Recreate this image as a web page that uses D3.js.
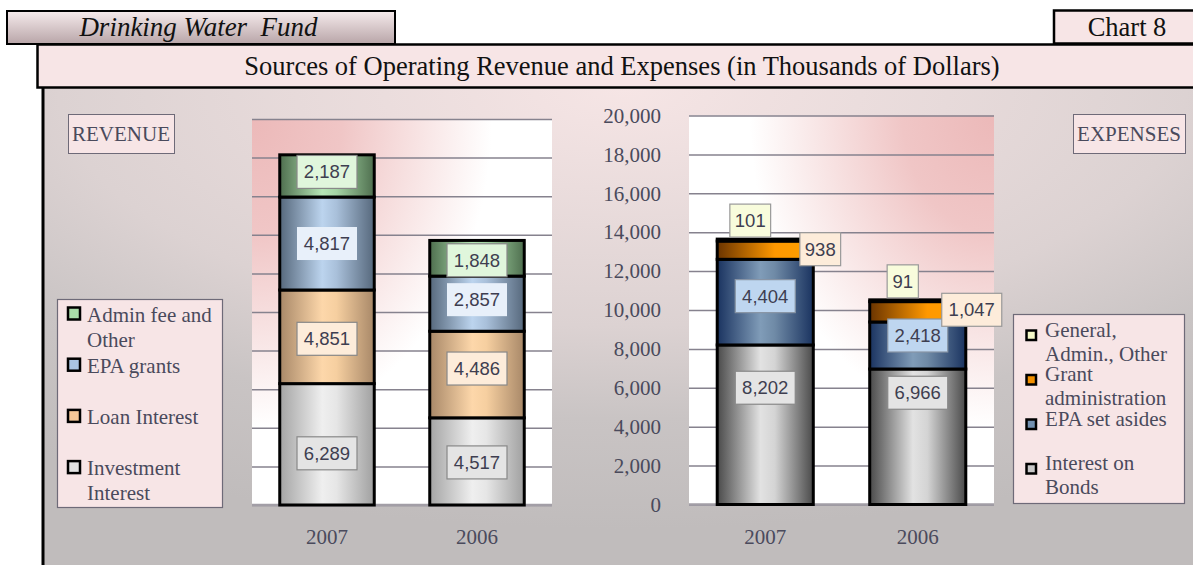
<!DOCTYPE html>
<html>
<head>
<meta charset="utf-8">
<script src="https://cdn.jsdelivr.net/npm/d3@7"></script>
<style>
  body { margin: 0; background: #ffffff; }
  svg { display: block; }
</style>
</head>
<body>
<div id="chart"></div>
<script>
// ---- data ----
var years = ["2007", "2006"];

// revenue (thousands of dollars)
var investmentInterest = [6289, 4517];
var loanInterest = [4851, 4486];
var epaGrants = [4817, 2857];
var adminFeeOther = [2187, 1848];

// expenses (thousands of dollars)
var interestOnBonds = [8202, 6966];
var epaSetAsides = [4404, 2418];
var grantAdministration = [938, 1047];
var generalAdminOther = [101, 91];

var yTicks = [0, 2000, 4000, 6000, 8000, 10000, 12000, 14000, 16000, 18000, 20000];

var revenueKeys = ["invest", "loan", "epa", "admin"];
var revenueLegend = [["Admin fee and", "Other"], ["EPA grants"], ["Loan Interest"], ["Investment", "Interest"]];
var expenseKeys = ["bonds", "setaside", "grant", "general"];
var expenseLegend = [["General,", "Admin., Other"], ["Grant", "administration"], ["EPA set asides"], ["Interest on", "Bonds"]];

// build rows for d3.stack
var revenueRows = years.map(function(y, i) {
  return {year: y, invest: investmentInterest[i], loan: loanInterest[i], epa: epaGrants[i], admin: adminFeeOther[i]};
});
var expenseRows = years.map(function(y, i) {
  return {year: y, bonds: interestOnBonds[i], setaside: epaSetAsides[i], grant: grantAdministration[i], general: generalAdminOther[i]};
});

// ---- styles ----
var styles = {
  invest:   {stops: [["0%", "#a4a4a4"], ["45%", "#efefef"], ["60%", "#e6e6e6"], ["100%", "#a0a0a0"]], swatch: "#e2e2e2", box: "#e4e4e4", boxStroke: "#888"},
  loan:     {stops: [["0%", "#a88868"], ["45%", "#fdd7aa"], ["60%", "#f6cfa0"], ["100%", "#a88868"]], swatch: "#f6c898", box: "#fdecda", boxStroke: "#888"},
  epa:      {stops: [["0%", "#56687c"], ["45%", "#bcd4ee"], ["60%", "#a9c0da"], ["100%", "#56687c"]], swatch: "#a9c4e2", box: "#e8f0fa", boxStroke: "none"},
  admin:    {stops: [["0%", "#4e6e4e"], ["45%", "#b6e6b6"], ["60%", "#a4d4a4"], ["100%", "#4e6e4e"]], swatch: "#a8dca8", box: "#e0f6dc", boxStroke: "#888"},
  bonds:    {stops: [["0%", "#4a4a4a"], ["45%", "#e2e2e2"], ["60%", "#d4d4d4"], ["100%", "#4a4a4a"]], swatch: "#c8c8c8", box: "#e4e4e4", boxStroke: "#888"},
  setaside: {stops: [["0%", "#1a3360"], ["45%", "#809cb8"], ["60%", "#6f8aa6"], ["100%", "#1a3360"]], swatch: "#7290b0", box: "#bed6f0", boxStroke: "#8894a4"},
  grant:    {stops: [["0%", "#6a3400"], ["60%", "#ff9800"], ["100%", "#ffa000"]], swatch: "#f29000", box: "#fdecda", boxStroke: "#999"},
  general:  {stops: [["0%", "#f4f8c8"], ["100%", "#f4f8c8"]], swatch: "#f4f8c8", box: "#f8fcdc", boxStroke: "#999"}
};

// small label nudges [dx, dy] per year, as placed in the original
var labelNudge = {
  invest: [[0, 9], [0, 1]], loan: [[0, 2], [0, -6]], epa: [[0, 0], [0, -4]], admin: [[0, -4], [0, 2]],
  bonds: [[0, -37], [0, -44]], setaside: [[0, -6], [0, -10]], grant: [[55, -1], [54, -2]], general: [[-15, 0], [-15, 0]]
};

var textColor = "#4a4a5c";
var serif = "'Liberation Serif', 'Times New Roman', serif";
var sans = "'Liberation Sans', Arial, sans-serif";

var svg = d3.select("#chart")
  .append("svg")
    .attr("width", 1193)
    .attr("height", 565);

var defs = svg.append("defs");

// panel background
var pg = defs.append("radialGradient").attr("id", "panelGrad")
  .attr("cx", 0.5).attr("cy", 0).attr("r", 0.9).attr("fx", 0.5).attr("fy", 0);
[["0%", "#f6e5e5"], ["54%", "#dcd2d2"], ["75%", "#c9c4c4"], ["100%", "#c0bcbc"]].forEach(function(s) {
  pg.append("stop").attr("offset", s[0]).attr("stop-color", s[1]);
});

// plot area backgrounds
[["plotL", 0], ["plotR", 1]].forEach(function(p) {
  var g = defs.append("radialGradient").attr("id", p[0])
    .attr("cx", p[1]).attr("cy", 0).attr("r", 1).attr("fx", p[1]).attr("fy", 0);
  [["0%", "#ecb9b9"], ["30%", "#f0c6c6"], ["80%", "#ffffff"], ["100%", "#ffffff"]].forEach(function(s) {
    g.append("stop").attr("offset", s[0]).attr("stop-color", s[1]);
  });
});

// header box gradient
var hg = defs.append("linearGradient").attr("id", "headGrad").attr("x1", 0).attr("y1", 0).attr("x2", 0).attr("y2", 1);
hg.append("stop").attr("offset", "0%").attr("stop-color", "#f6ebec");
hg.append("stop").attr("offset", "100%").attr("stop-color", "#b8a5a8");

// bar gradients
Object.keys(styles).forEach(function(k) {
  var g = defs.append("linearGradient").attr("id", "bar-" + k).attr("x1", 0).attr("y1", 0).attr("x2", 1).attr("y2", 0);
  styles[k].stops.forEach(function(s) {
    g.append("stop").attr("offset", s[0]).attr("stop-color", s[1]);
  });
});

// ---- panel and headers ----
svg.append("rect")
  .attr("x", 42).attr("y", 88).attr("width", 1160).attr("height", 490)
  .attr("fill", "url(#panelGrad)");
svg.append("line")
  .attr("x1", 43).attr("x2", 43).attr("y1", 86).attr("y2", 570)
  .attr("stroke", "#000").attr("stroke-width", 3);

svg.append("rect")
  .attr("x", 37.5).attr("y", 44.5).attr("width", 1170).attr("height", 43)
  .attr("fill", "#f7e5e6").attr("stroke", "#000").attr("stroke-width", 2.5);
svg.append("text")
  .attr("x", 622).attr("y", 74.5)
  .attr("text-anchor", "middle")
  .style("font-family", serif).style("font-size", "26.5px").attr("fill", "#111")
  .text("Sources of Operating Revenue and Expenses (in Thousands of Dollars)");

svg.append("rect")
  .attr("x", 7).attr("y", 11).attr("width", 388).attr("height", 33)
  .attr("fill", "url(#headGrad)").attr("stroke", "#000").attr("stroke-width", 2);
svg.append("text")
  .attr("x", 198.5).attr("y", 36)
  .attr("text-anchor", "middle")
  .style("font-family", serif).style("font-size", "27px").style("font-style", "italic")
  .style("white-space", "pre").attr("fill", "#111")
  .text("Drinking Water  Fund");

svg.append("rect")
  .attr("x", 1054).attr("y", 10.5).attr("width", 150).attr("height", 33)
  .attr("fill", "#f7e5e6").attr("stroke", "#000").attr("stroke-width", 2.5);
svg.append("text")
  .attr("x", 1127).attr("y", 36)
  .attr("text-anchor", "middle")
  .style("font-family", serif).style("font-size", "26.5px").attr("fill", "#111")
  .text("Chart 8");

// titled boxes
function tagBox(x, y, w, h, label) {
  svg.append("rect")
    .attr("x", x + 0.5).attr("y", y + 0.5).attr("width", w).attr("height", h)
    .attr("fill", "#f7e5e6").attr("stroke", "#6e6a78").attr("stroke-width", 1);
  svg.append("text")
    .attr("x", x + w / 2).attr("y", y + h / 2 + 7)
    .attr("text-anchor", "middle")
    .style("font-family", serif).style("font-size", "21px").attr("fill", textColor)
    .text(label);
}
tagBox(68, 114, 106, 39, "REVENUE");
tagBox(1073, 114, 112, 39, "EXPENSES");

// ---- stacked chart ----
function drawChart(opt) {
  var x = d3.scaleBand()
    .domain(years)
    .range([opt.x0, opt.x1])
    .paddingInner(0.37)
    .paddingOuter(0.185);

  var y = d3.scaleLinear()
    .domain([0, 20000])
    .range([opt.y0, opt.y1]);

  var g = svg.append("g");

  // plot background
  g.append("rect")
    .attr("x", opt.x0).attr("y", opt.y1)
    .attr("width", opt.x1 - opt.x0).attr("height", opt.y0 - opt.y1)
    .attr("fill", "url(#" + opt.bg + ")");

  // gridlines
  g.append("g")
    .attr("transform", "translate(" + opt.x0 + ",0)")
    .call(d3.axisLeft(y).tickValues(yTicks).tickSize(-(opt.x1 - opt.x0)).tickFormat(""))
    .call(function(a) { a.select(".domain").remove(); })
    .selectAll("line")
      .attr("stroke", "#86828e")
      .attr("stroke-width", 1.5);
  g.append("line")
    .attr("x1", opt.x0).attr("x2", opt.x1)
    .attr("y1", y(0)).attr("y2", y(0))
    .attr("stroke", "#a29ea6").attr("stroke-width", 2.5);

  // y axis labels
  if (opt.axis) {
    g.append("g")
      .attr("transform", "translate(" + (opt.x0 - 25) + ",0)")
      .call(d3.axisLeft(y).tickValues(yTicks).tickSize(0).tickFormat(d3.format(",")))
      .call(function(a) { a.select(".domain").remove(); })
      .selectAll("text")
        .style("font-family", serif)
        .style("font-size", "21px")
        .attr("fill", textColor);
  }

  // x labels
  g.selectAll(".year")
    .data(years)
    .enter().append("text")
      .attr("x", function(d) { return x(d) + x.bandwidth() / 2; })
      .attr("y", 544)
      .attr("text-anchor", "middle")
      .style("font-family", serif).style("font-size", "21px")
      .attr("fill", textColor)
      .text(function(d) { return d; });

  // bars
  var series = d3.stack().keys(opt.keys)(opt.rows);

  series.forEach(function(s) {
    g.append("g").selectAll("rect")
      .data(s)
      .enter().append("rect")
        .attr("x", function(d) { return x(d.data.year); })
        .attr("y", function(d) { return y(d[1]); })
        .attr("width", x.bandwidth())
        .attr("height", function(d) { return y(d[0]) - y(d[1]); })
        .attr("fill", "url(#bar-" + s.key + ")")
        .attr("stroke", "#000")
        .attr("stroke-width", 3);
  });

  // value labels
  var fmt = d3.format(",");
  series.forEach(function(s) {
    var st = styles[s.key];
    s.forEach(function(d, i) {
      var v = d[1] - d[0];
      var txt = fmt(v);
      var w = txt.length * 9.6 + 12;
      var h = 33;
      var nudge = labelNudge[s.key][i];
      var cx = x(d.data.year) + x.bandwidth() / 2 + nudge[0];
      var cy = s.key === "general"
        ? y(d[1]) - 2 - h / 2
        : (y(d[0]) + y(d[1])) / 2 + nudge[1];
      g.append("rect")
        .attr("x", cx - w / 2).attr("y", cy - h / 2)
        .attr("width", w).attr("height", h)
        .attr("fill", st.box)
        .attr("stroke", st.boxStroke)
        .attr("stroke-width", 1.2);
      g.append("text")
        .attr("x", cx).attr("y", cy + 6.5)
        .attr("text-anchor", "middle")
        .style("font-family", sans).style("font-size", "18.5px")
        .attr("fill", "#3e3e50")
        .text(txt);
    });
  });
}

drawChart({rows: revenueRows, keys: revenueKeys, x0: 252, x1: 552, y0: 505, y1: 119, bg: "plotL", axis: false});
drawChart({rows: expenseRows, keys: expenseKeys, x0: 689, x1: 994, y0: 504.5, y1: 115.5, bg: "plotR", axis: true});

// ---- legends ----
function legend(opt) {
  var lg = svg.append("g");
  lg.append("rect")
    .attr("x", opt.x + 0.5).attr("y", opt.y + 0.5).attr("width", opt.w).attr("height", opt.h)
    .attr("fill", "#f7e5e6").attr("stroke", "#6e6a78").attr("stroke-width", 1.2);
  opt.labels.forEach(function(lines, i) {
    var base = opt.first + i * opt.step;
    var key = opt.keys[opt.keys.length - 1 - i];
    lg.append("rect")
      .attr("x", opt.x + opt.sx).attr("y", base - opt.sTop)
      .attr("width", opt.size).attr("height", opt.size)
      .attr("fill", styles[key].swatch)
      .attr("stroke", "#000").attr("stroke-width", 2.5);
    lines.forEach(function(line, j) {
      lg.append("text")
        .attr("x", opt.x + opt.tx).attr("y", base + j * opt.lh)
        .style("font-family", serif).style("font-size", "21px")
        .attr("fill", textColor)
        .text(line);
    });
  });
}

legend({x: 57, y: 299, w: 165, h: 208, labels: revenueLegend, keys: revenueKeys,
  first: 321.5, step: 51.2, sx: 11, sTop: 14, size: 12, tx: 30, lh: 25});
legend({x: 1013, y: 314, w: 171, h: 189, labels: expenseLegend, keys: expenseKeys,
  first: 336.5, step: 44.5, sx: 13.5, sTop: 6, size: 9.5, tx: 32, lh: 24});
</script>
</body>
</html>
